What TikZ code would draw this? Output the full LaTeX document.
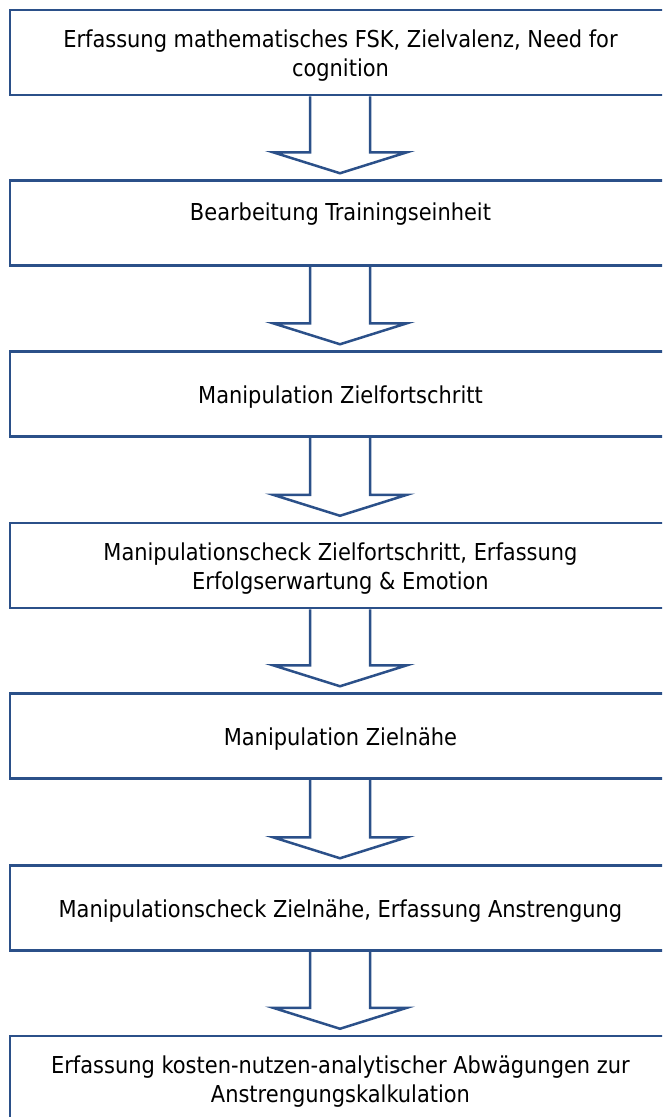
\documentclass[tikz,border=0pt]{standalone}
\usepackage{fontspec}
\setmainfont{DejaVu Sans Condensed}
\usetikzlibrary{calc}
\definecolor{frame}{HTML}{2B5089}
\tikzset{
  stepbox/.style={draw=frame, line width=2.5pt, rectangle,
    minimum width=661pt, minimum height=85pt, inner sep=0pt},
  steptext/.style={align=center, inner sep=0pt,
    font=\fontsize{23.3}{29}\selectfont},
  flowarrow/.style={draw=frame, line width=2.5pt, line join=miter}
}
\begin{document}
\begin{tikzpicture}[x=1pt,y=-1pt]
  \useasboundingbox (0,0) rectangle (662,1117);
  \clip (0,0) rectangle (662,1117);

  % frames of the seven steps
  \node[stepbox] (b1) at (340.5,52.5) {};
  \node[stepbox] (b2) at (340.5,223) {};
  \node[stepbox] (b3) at (340.5,394) {};
  \node[stepbox] (b4) at (340.5,565.5) {};
  \node[stepbox] (b5) at (340.5,736) {};
  \node[stepbox] (b6) at (340.5,908) {};
  \node[stepbox] (b7) at (340.5,1078.5) {};

  % step texts, set slightly below the frame centres
  \node[steptext] (t1) at ($(b1.center)+(0,3)$) {Erfassung mathematisches FSK, Zielvalenz, Need for\\cognition};
  \node[steptext] (t2) at ($(b2.center)+(0,3)$) {Bearbeitung Trainingseinheit\\\mbox{}};
  \node[steptext] (t3) at ($(b3.center)+(0,3)$) {Manipulation Zielfortschritt};
  \node[steptext] (t4) at ($(b4.center)+(0,3)$) {Manipulationscheck Zielfortschritt, Erfassung\\Erfolgserwartung \& Emotion};
  \node[steptext] (t5) at ($(b5.center)+(0,3)$) {Manipulation Zieln\"ahe};
  \node[steptext] (t6) at ($(b6.center)+(0,3)$) {Manipulationscheck Zieln\"ahe, Erfassung Anstrengung};
  \node[steptext] (t7) at ($(b7.center)+(0,3)$) {Erfassung kosten-nutzen-analytischer Abw\"agungen zur\\Anstrengungskalkulation};

  % block arrows between consecutive steps
  \foreach \a/\b in {b1/b2, b2/b3, b3/b4, b4/b5, b5/b6, b6/b7} {
    \draw[flowarrow]
      ($(\a.south)+(-30.5,0)$) -- ($(\b.north)+(-30.5,-27)$)
      -- ($(\b.north)+(-67.5,-27)$) -- ($(\b.north)+(-0.5,-6)$)
      -- ($(\b.north)+(66.5,-27)$) -- ($(\b.north)+(29.5,-27)$)
      -- ($(\a.south)+(29.5,0)$);
  }
\end{tikzpicture}
\end{document}
